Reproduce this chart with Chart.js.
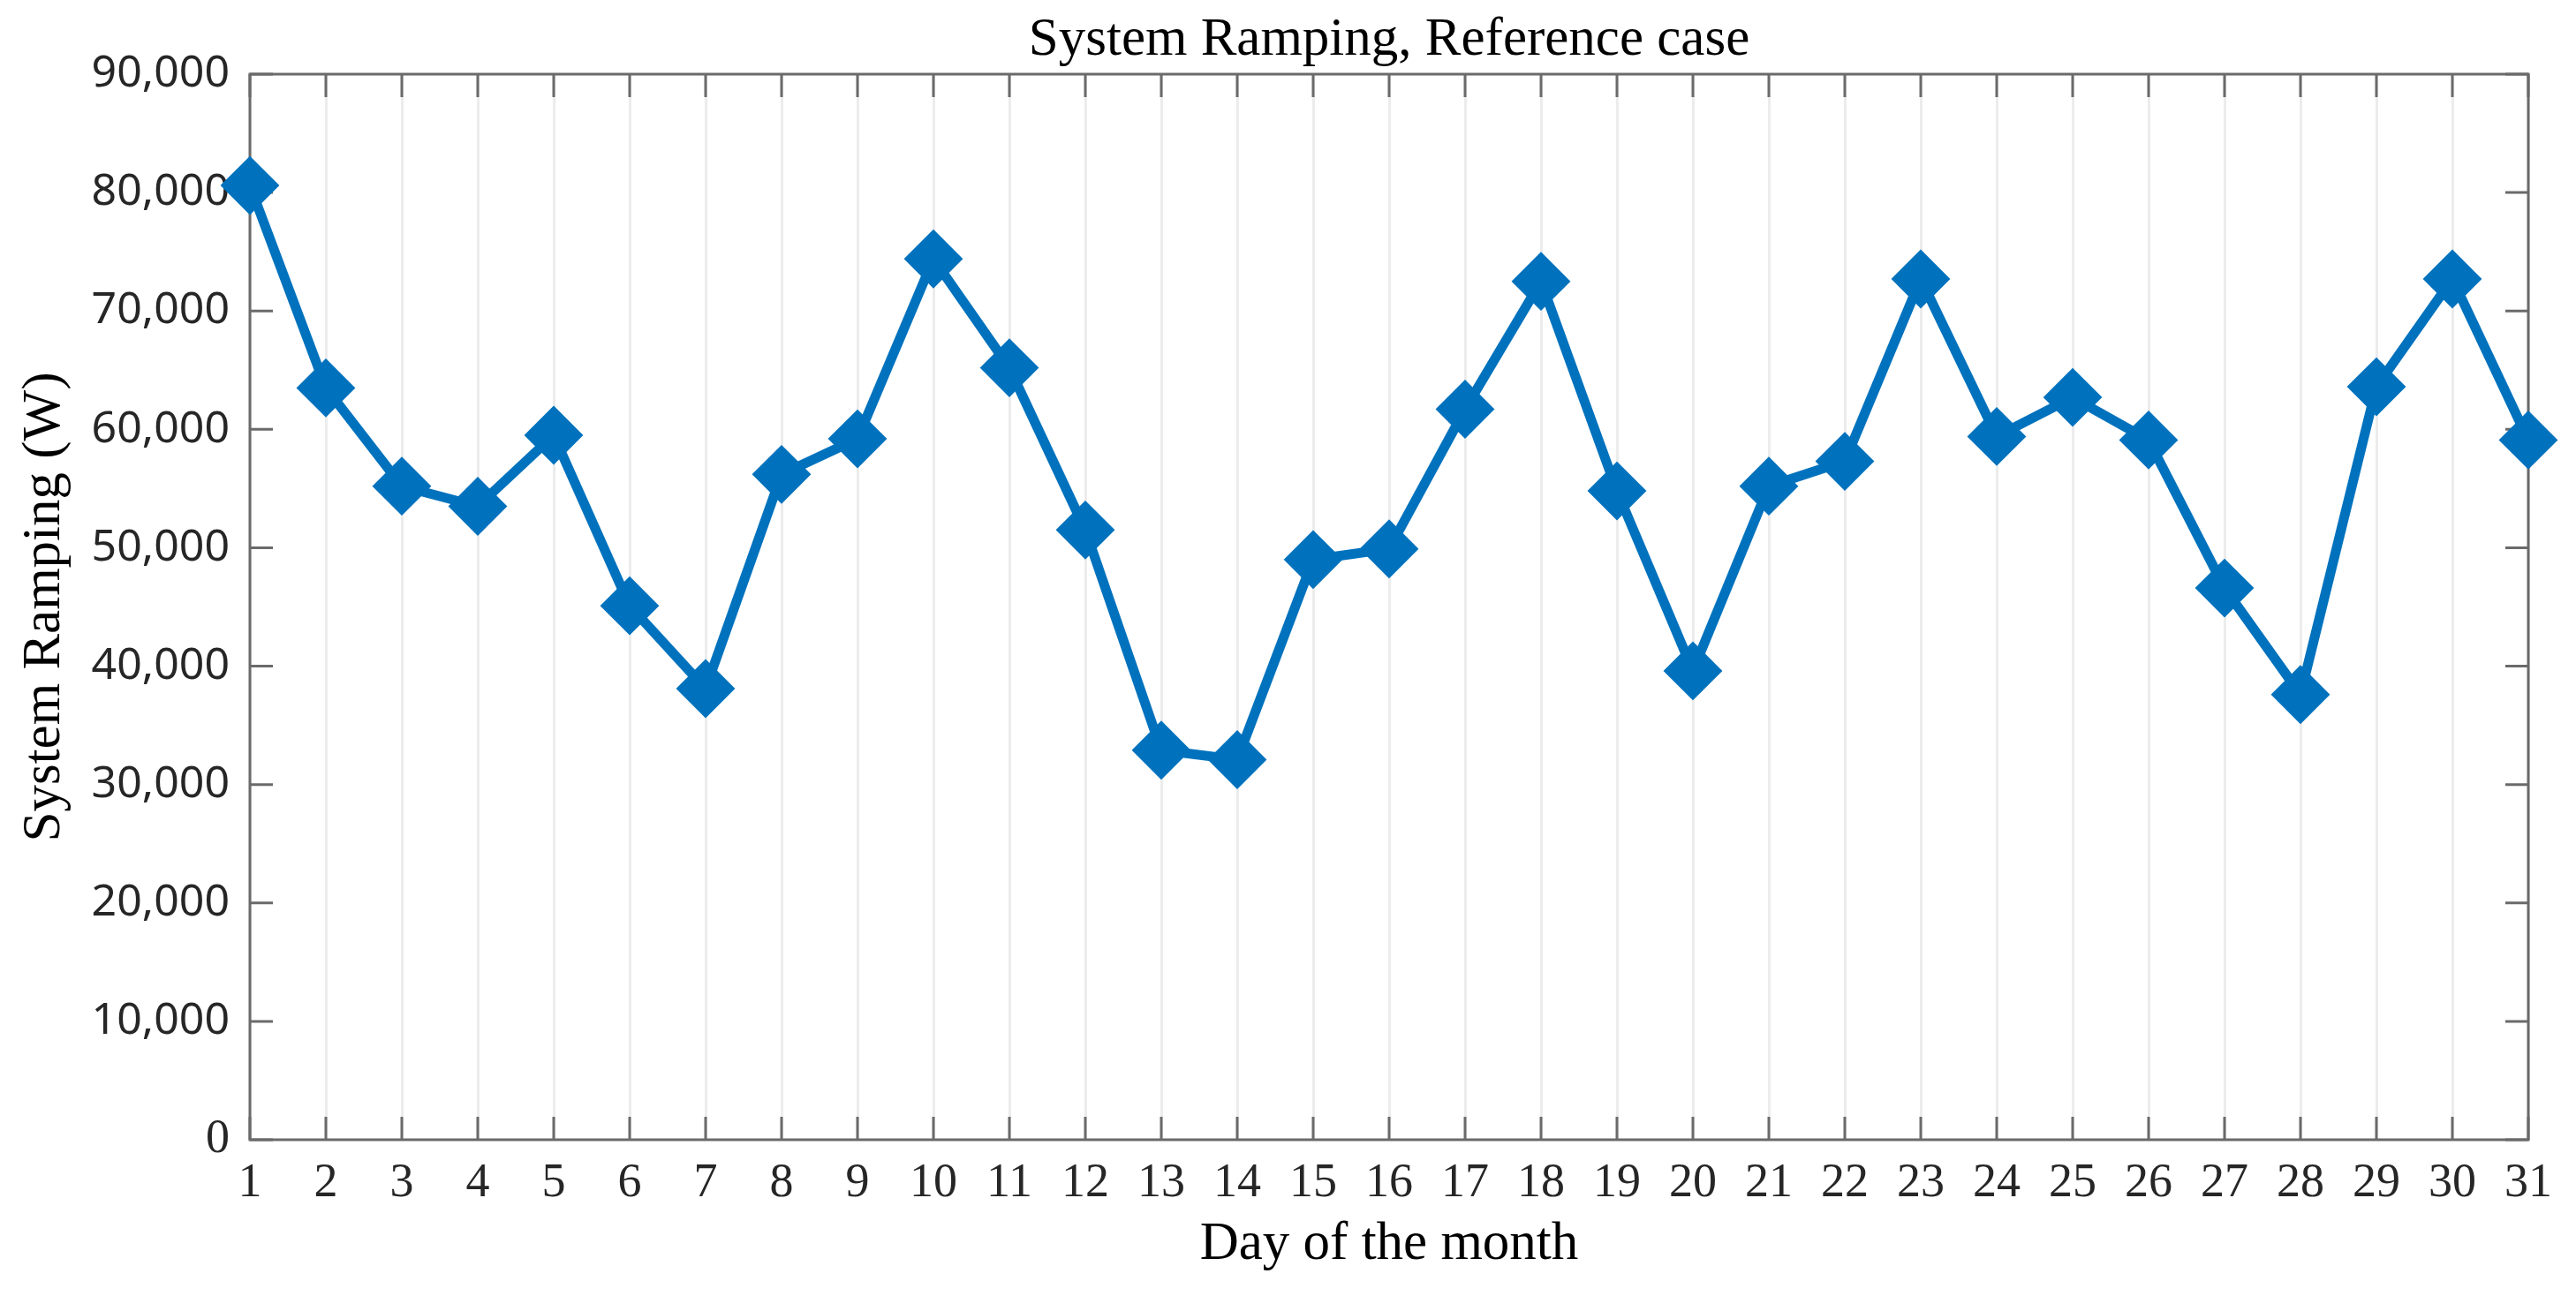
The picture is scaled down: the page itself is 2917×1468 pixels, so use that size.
<!DOCTYPE html>
<html>
<head>
<meta charset="utf-8">
<title>System Ramping, Reference case</title>
<script src="https://cdn.jsdelivr.net/npm/chart.js@4"></script>
<style>
    html, body { margin: 0; padding: 0; background: #fff; }
    canvas { display: block; }
</style>
</head>
<body>
<canvas id="rampChart" width="2917" height="1468"></canvas>
<script>
// Data
const days = [
    "1", "2", "3", "4", "5", "6", "7", "8", "9", "10",
    "11", "12", "13", "14", "15", "16", "17", "18", "19", "20",
    "21", "22", "23", "24", "25", "26", "27", "28", "29", "30", "31",
];
const ramping = [
    80600, 63500, 55200, 53500, 59500, 45100, 38100, 56200, 59200, 74400,
    65200, 51500, 32900, 32100, 49000, 49900, 61700, 72500, 54800, 39600,
    55200, 57300, 72700, 59400, 62700, 59100, 46600, 37600, 63600, 72700, 59100,
];
const yTicks = [0, 10000, 20000, 30000, 40000, 50000, 60000, 70000, 80000, 90000];

const TICK_LEN = 26;
const SERIF = "'Liberation Serif', 'Times New Roman', serif";
const SANS = "'Noto Sans', 'DejaVu Sans', sans-serif";

// Box frame with inward tick marks on all four sides
const frameTicks = {
    id: "frameTicks",
    beforeDatasetsDraw(chart) {
        const { ctx, chartArea: a, scales } = chart;
        ctx.save();
        ctx.strokeStyle = "#6a6a6a";
        ctx.lineWidth = 3;
        ctx.beginPath();
        scales.x.ticks.forEach((t, i) => {
            const px = scales.x.getPixelForTick(i);
            ctx.moveTo(px, a.bottom);
            ctx.lineTo(px, a.bottom - TICK_LEN);
            ctx.moveTo(px, a.top);
            ctx.lineTo(px, a.top + TICK_LEN);
        });
        scales.y.ticks.forEach((t, i) => {
            const py = scales.y.getPixelForTick(i);
            ctx.moveTo(a.left, py);
            ctx.lineTo(a.left + TICK_LEN, py);
            ctx.moveTo(a.right, py);
            ctx.lineTo(a.right - TICK_LEN, py);
        });
        ctx.stroke();
        ctx.strokeRect(a.left, a.top, a.right - a.left, a.bottom - a.top);
        ctx.restore();
    },
};

const rampCtx = document.getElementById("rampChart").getContext("2d");
const rampChart = new Chart(rampCtx, {
    type: "line",
    data: {
        labels: days,
        datasets: [
            {
                label: "System Ramping",
                data: ramping,
                borderColor: "#0072BD",
                borderWidth: 11,
                tension: 0,
                pointStyle: "rectRot",
                pointRadius: 32,
                pointBorderWidth: 2,
                pointBackgroundColor: "#0072BD",
                pointBorderColor: "#0072BD",
                clip: false,
            },
        ],
    },
    options: {
        responsive: false,
        devicePixelRatio: 1,
        animation: false,
        layout: {
            padding: { top: 0, right: 54, bottom: 0, left: 0 },
        },
        plugins: {
            legend: { display: false },
            tooltip: { enabled: false },
            title: {
                display: true,
                text: "System Ramping, Reference case",
                fullSize: false,
                color: "#000",
                font: { family: SERIF, size: 61, weight: "normal", lineHeight: 1 },
                padding: { top: 15, bottom: 8 },
            },
        },
        scales: {
            x: {
                type: "category",
                offset: false,
                grid: {
                    display: true,
                    color: "#ececec",
                    lineWidth: 3,
                    drawTicks: false,
                },
                border: { display: false },
                ticks: {
                    autoSkip: false,
                    maxRotation: 0,
                    color: "#262626",
                    padding: 17,
                    font: { family: SERIF, size: 54 },
                },
                title: {
                    display: true,
                    text: "Day of the month",
                    color: "#000",
                    font: { family: SERIF, size: 61, lineHeight: 1 },
                    padding: { top: 0, bottom: 28 },
                },
                afterFit: (scale) => {
                    scale.height = 177;
                },
            },
            y: {
                min: 0,
                max: 90000,
                afterBuildTicks: (scale) => {
                    scale.ticks = yTicks.map((v) => ({ value: v }));
                },
                grid: { display: false, drawTicks: false },
                border: { display: false },
                ticks: {
                    color: "#262626",
                    padding: 23,
                    font: (c) =>
                        c.tick && c.tick.value === 0
                            ? { family: SERIF, size: 54 }
                            : { family: SANS, size: 50 },
                    callback: function (value) {
                        return value.toLocaleString("en-US");
                    },
                },
                title: {
                    display: true,
                    text: "System Ramping (W)",
                    color: "#000",
                    font: { family: SERIF, size: 61, lineHeight: 1 },
                    padding: { top: 20, bottom: 0 },
                },
                afterFit: (scale) => {
                    scale.width = 283;
                },
            },
        },
    },
    plugins: [frameTicks],
});
</script>
</body>
</html>
